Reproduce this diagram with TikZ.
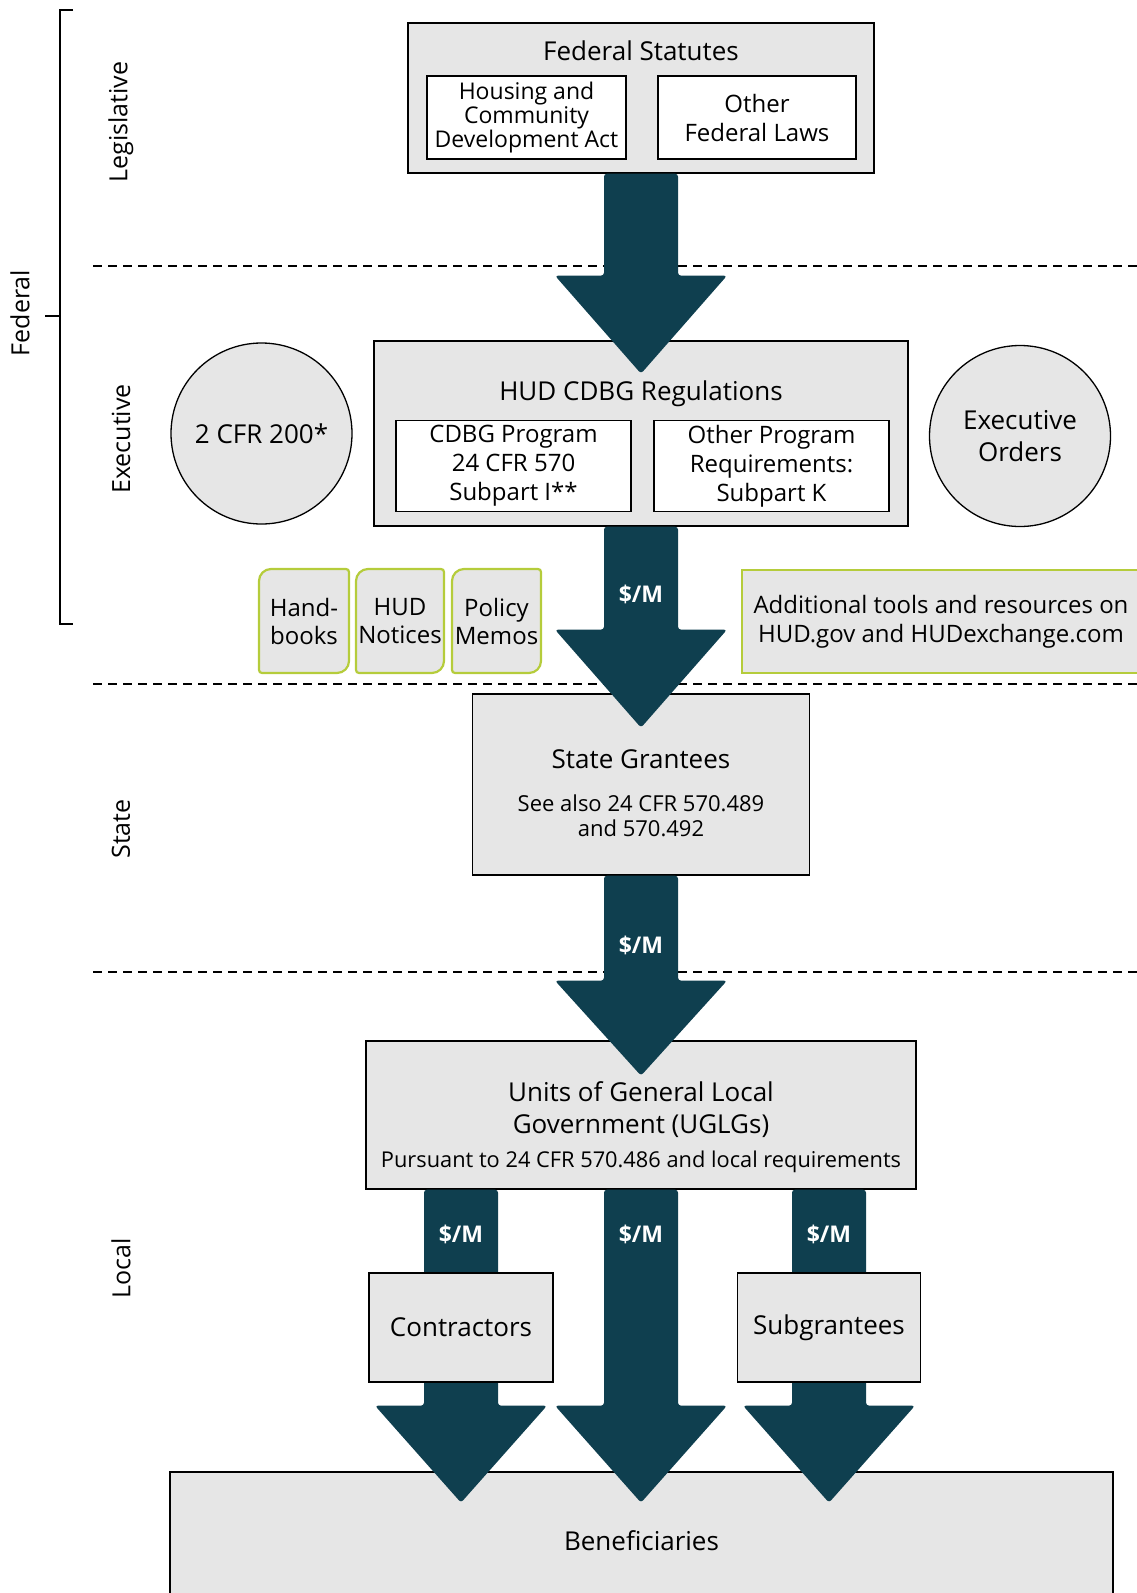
\documentclass[tikz,border=0pt]{standalone}
\usepackage{fontspec}
\setmainfont{Open Sans}
\usetikzlibrary{calc,positioning}

\definecolor{flowteal}{HTML}{0F3F4F}
\definecolor{boxgray}{HTML}{E6E6E6}
\definecolor{tabgreen}{HTML}{B5CC3B}

\tikzset{
  box/.style={draw, fill=boxgray, line width=1.3pt, inner sep=0pt, align=center},
  inbox/.style={box, fill=white},
  circ/.style={draw, fill=boxgray, circle, line width=1.3pt, minimum size=181pt, inner sep=0pt, align=center},
  flow/.style={fill=flowteal, rounded corners=3pt},
  money/.style={text=white, font=\bfseries\fontsize{23}{26}\selectfont},
  level/.style={rotate=90, font=\fontsize{25}{30}\selectfont},
  sep/.style={dash pattern=on 9pt off 6pt, line width=1.4pt},
  tab/.style={draw=tabgreen, fill=boxgray, line width=2.2pt},
  titlefont/.style={font=\fontsize{26}{32}\selectfont, align=center},
  subfont/.style={font=\fontsize{24}{29}\selectfont, align=center},
  notefont/.style={font=\fontsize{22}{25}\selectfont, align=center},
}

% fat arrow: start node anchor, x offset, shaft length, head length
\newcommand{\bigflow}[4]{%
  \fill[flow] ($(#1)+(#2-37,0)$) -- ++(0,#3) -- ++(-49,0) -- ++(86,#4) -- ++(86,-#4) -- ++(-49,0) -- ++(0,-#3) -- cycle;}

% green tab with two big rounded corners
\newcommand{\leaftab}[4]{%
  \draw[tab] (#1,#2+40) [rounded corners=12pt] -- (#1,#2) [rounded corners=3pt] -- (#3,#2) [rounded corners=12pt] -- (#3,#4) [rounded corners=3pt] -- (#1,#4) [sharp corners] -- cycle;}

\begin{document}
\begin{tikzpicture}[x=1pt, y=-1pt]
  \useasboundingbox (0,0) rectangle (1137,1593);

  % Levels on the left
  \draw[line width=1.4pt] (73,10) -- (60,10) -- (60,624) -- (73,624);
  \draw[line width=1.4pt] (45,316) -- (60,316);
  \node[level] (fed) at (20,313) {Federal};
  \node[level] (leg) at (121,122) {Legislative};
  \node[level] (exe) at (121,439) {Executive};
  \node[level] (sta) at (121,829) {State};
  \node[level] (loc) at (121,1268) {Local};

  % Dashed separators
  \foreach \y in {266,684,972}
    \draw[sep] (93,\y) -- (1137,\y);

  % Legislative: statutes
  \node[box, minimum width=466pt, minimum height=150pt] (fs) at (641,98) {};
  \node[titlefont] (fst) at (641,51) {Federal Statutes};
  \node[inbox, minimum width=199pt, minimum height=83pt, font=\fontsize{23}{24}\selectfont] (hcda) at (526.5,117.5) {Housing and\\Community\\Development Act};
  \node[inbox, subfont, minimum width=198pt, minimum height=83pt] (ofl) at (757,117.5) {Other\\Federal Laws};

  % Executive: regulations
  \node[box, minimum width=534pt, minimum height=185pt] (hud) at (641,433.5) {};
  \node[titlefont] (hudt) at (641,394) {HUD CDBG Regulations};
  \node[inbox, subfont, minimum width=235pt, minimum height=91pt] (cdbg) at (513.5,466) {CDBG Program\\24 CFR 570\\Subpart I**};
  \node[inbox, subfont, minimum width=235pt, minimum height=91pt] (opr) at (771.5,466) {Other Program\\Requirements:\\Subpart K};
  \node[circ, titlefont] (cfr) at (261.5,433.5) {2 CFR 200*};
  \node[circ, titlefont] (eo) at (1020,436) {Executive\\Orders};

  % Guidance tabs
  \leaftab{259}{569}{349}{673}
  \node[subfont, font=\fontsize{24}{28}\selectfont] (hb) at (304,621) {Hand-\\books};
  \leaftab{356}{569}{444}{673}
  \node[subfont, font=\fontsize{24}{28}\selectfont] (hn) at (400,621) {HUD\\Notices};
  \leaftab{452}{569}{541}{673}
  \node[subfont, font=\fontsize{24}{28}\selectfont] (pm) at (496.5,621) {Policy\\Memos};
  \node[box, tab, subfont, minimum width=398pt, minimum height=103pt] (addl) at (941,621.5) {Additional tools and resources on\\HUD.gov and HUDexchange.com};

  % State
  \node[box, minimum width=337pt, minimum height=181pt] (sg) at (641,784.5) {};
  \node[titlefont] (sgt) at (641,759) {State Grantees};
  \node[notefont] (sgs) at (641,815.5) {See also 24 CFR 570.489\\and 570.492};

  % Local
  \node[box, minimum width=550pt, minimum height=148pt] (uglg) at (641,1115) {};
  \node[titlefont] (uglgt) at (641,1110) {Units of General Local\\Government (UGLGs)};
  \node[font=\fontsize{21.8}{25}\selectfont] (uglgs) at (641,1162) {Pursuant to 24 CFR 570.486 and local requirements};
  \node[box, titlefont, minimum width=943pt, minimum height=138pt] (ben) at (641.5,1541) {Beneficiaries};

  % Money flows
  \bigflow{fs.south}{0}{102}{98}
  \bigflow{hud.south}{0}{103}{98}
  \bigflow{sg.south}{0}{105}{95}
  \bigflow{uglg.south}{-180}{216}{97}
  \bigflow{uglg.south}{0}{216}{97}
  \bigflow{uglg.south}{188}{216}{97}
  \node[money] (m2) at ($(hud.south)+(0,68)$) {\$/M};
  \node[money] (m3) at ($(sg.south)+(0,70)$) {\$/M};
  \node[money] (m4) at ($(uglg.south)+(-180,45)$) {\$/M};
  \node[money] (m5) at ($(uglg.south)+(0,45)$) {\$/M};
  \node[money] (m6) at ($(uglg.south)+(188,45)$) {\$/M};

  % Recipients on top of the flows
  \node[box, titlefont, minimum width=184pt, minimum height=109pt] (ctr) at (461,1327.5) {Contractors};
  \node[box, titlefont, minimum width=183pt, minimum height=109pt] (sub) at (829,1327.5) {Subgrantees};
\end{tikzpicture}
\end{document}
